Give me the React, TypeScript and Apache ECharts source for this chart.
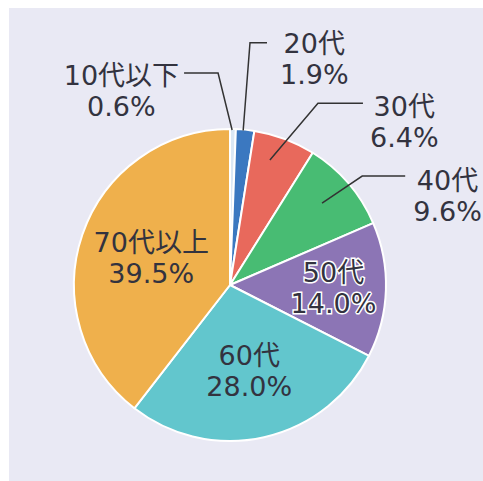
import React, { useEffect, useRef } from "react";
import * as echarts from "echarts";

// ---- data ----
const categories: string[] = ["10代以下", "20代", "30代", "40代", "50代", "60代", "70代以上"];
const shares: number[] = [0.6, 1.9, 6.4, 9.6, 14.0, 28.0, 39.5];
const colors: string[] = ["#dbe8f5", "#3b78c0", "#e8695c", "#48bc73", "#8c75b5", "#62c6cd", "#efb04c"];

// ---- layout ----
const W = 483;
const H = 481;
const CX = 230;
const CY = 285;
const R = 155;
const FONT = 27;
const LINE_H = 31;
const TEXT_COLOR = "#33333f";
const FONT_FAMILY = '"DejaVu Sans", "Noto Sans CJK JP", sans-serif';

type Outside = { s0: number; a0: number; s1: number; a1: number; len2: number; dir: 1 | -1; gap: number; dy: number };
// label-line geometry relative to each slice's middle angle (null = label inside the slice)
const outsideLayout: (Outside | null)[] = [
  { s0: 1.0, a0: -0.3, s1: 1.37, a1: -4.3, len2: 34, dir: -1, gap: 5, dy: 3 },
  { s0: 1.0, a0: -0.7, s1: 1.568, a1: -0.86, len2: 17, dir: 1, gap: 13, dy: 1 },
  { s0: 0.846, a0: -2.8, s1: 1.303, a1: 5.3, len2: 45, dir: 1, gap: 7, dy: 3 },
  { s0: 0.795, a0: -1.0, s1: 1.105, a1: 1.2, len2: 43, dir: 1, gap: 8, dy: 4 },
  null,
  null,
  null,
];
const insideRadius: number[] = [0, 0, 0, 0, 0.668, 0.568, 0.537];

function polar(angleDeg: number, rr: number): [number, number] {
  const a = (angleDeg * Math.PI) / 180;
  return [CX + rr * Math.sin(a), CY - rr * Math.cos(a)];
}

export default function App() {
  const ref = useRef<HTMLDivElement>(null);

  useEffect(() => {
    if (!ref.current) return;
    const chart = echarts.init(ref.current, undefined, { renderer: "svg" });

    const total = shares.reduce((a, b) => a + b, 0);
    const midAngles: number[] = [];
    let acc = 0;
    shares.forEach((v) => {
      midAngles.push(((acc + v / 2) / total) * 360);
      acc += v;
    });

    // colored slices
    const sliceData = categories.map((name, i) => ({
      name,
      value: shares[i],
      itemStyle: { color: colors[i] },
    }));

    // transparent overlay carrying the labels and label lines (drawn above the slices)
    const labelData = categories.map((name, i) => {
      const inside = outsideLayout[i] === null;
      return {
        name,
        value: shares[i],
        label: inside
          ? {
              position: "inside",
              ...(i === 4 ? { textBorderColor: "#ffffff", textBorderWidth: 3 } : {}),
            }
          : { position: "outside" },
        labelLine: { show: !inside },
      };
    });

    chart.setOption({
      animation: false,
      backgroundColor: "#ffffff",
      graphic: [
        {
          type: "rect",
          z: -10,
          silent: true,
          shape: { x: 9, y: 8, width: W - 9, height: H - 8 },
          style: { fill: "#e9e9f4" },
        },
      ],
      series: [
        {
          type: "pie",
          z: 2,
          center: [CX, CY],
          radius: [0, R + 1],
          startAngle: 90,
          clockwise: true,
          silent: true,
          itemStyle: { borderColor: "#ffffff", borderWidth: 2 },
          label: { show: false },
          labelLine: { show: false },
          data: sliceData,
        },
        {
          type: "pie",
          z: 5,
          center: [CX, CY],
          radius: [0, R + 1],
          startAngle: 90,
          clockwise: true,
          silent: true,
          avoidLabelOverlap: false,
          itemStyle: { color: "rgba(0,0,0,0)", borderWidth: 0 },
          label: {
            show: true,
            color: TEXT_COLOR,
            fontSize: FONT,
            lineHeight: LINE_H,
            fontFamily: FONT_FAMILY,
            align: "center",
            formatter: (p: any) => `${p.name}\n${Number(p.value).toFixed(1)}%`,
          },
          labelLine: {
            show: true,
            showAbove: true,
            length: 20,
            length2: 20,
            lineStyle: { color: "#333333", width: 1.5 },
          },
          labelLayout: (params: any) => {
            const i = params.dataIndex;
            const mid = midAngles[i];
            const o = outsideLayout[i];
            const w = params.labelRect.width;
            if (o) {
              const p0 = polar(mid + o.a0, R * o.s0);
              const p1 = polar(mid + o.a1, R * o.s1);
              const p2: [number, number] = [p1[0] + o.dir * o.len2, p1[1]];
              return {
                x: p2[0] + o.dir * (o.gap + w / 2),
                y: p2[1] + LINE_H / 2 + o.dy,
                align: "center",
                verticalAlign: "middle",
                labelLinePoints: [p0, p1, p2],
              };
            }
            const c = polar(mid, R * insideRadius[i]);
            return { x: c[0], y: c[1], align: "center", verticalAlign: "middle" };
          },
          data: labelData,
        },
      ],
    });

    return () => chart.dispose();
  }, []);

  return (
    <div
      ref={ref}
      style={{ position: "fixed", left: 0, top: 0, width: W, height: H }}
    />
  );
}
